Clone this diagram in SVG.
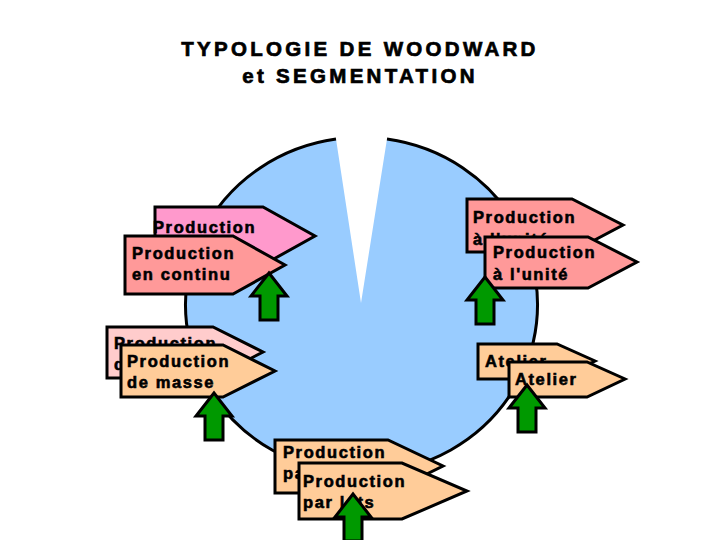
<svg xmlns="http://www.w3.org/2000/svg" width="720" height="540" viewBox="0 0 720 540">
<style>
.title{font-family:"Liberation Sans",Arial,sans-serif;font-weight:bold;font-size:20.5px;letter-spacing:3.3px;fill:#000;stroke:#000;stroke-width:0.7px}
.lbl{font-family:"Liberation Sans",Arial,sans-serif;font-weight:bold;font-size:16.5px;letter-spacing:1.6px;fill:#000;stroke:#000;stroke-width:0.6px}
.box{stroke:#000;stroke-width:3;stroke-linejoin:miter}
.arr{fill:#009900;stroke:#000;stroke-width:3;stroke-linejoin:miter}
</style>
<defs>
<polygon id="up" points="0,0 18,23 9,23 9,47 -9,47 -9,23 -18,23"/>
</defs>
<rect width="720" height="540" fill="#fff"/>
<g id="title">
<text class="title" x="360" y="56" text-anchor="middle">TYPOLOGIE DE WOODWARD</text>
<text class="title" x="360" y="83" text-anchor="middle">et SEGMENTATION</text>
</g>
<g id="pie">
<path d="M361,303 L387,139 A176 168 0 1 1 336,139 Z" fill="#99CCFF"/>
<path d="M387,139 A176 168 0 1 1 336,139" fill="none" stroke="#000" stroke-width="3"/>
</g>
<g id="continu-back">
<polygon class="box" fill="#FF99CC" points="155,207 263,207 315,236 263,265 155,265"/>
<text class="lbl" x="153" y="233">Production</text>
</g>
<g id="continu">
<polygon class="box" fill="#FF9999" points="125,236 233,236 285,265 233,294 125,294"/>
<text class="lbl" x="132" y="259">Production</text>
<text class="lbl" x="132" y="280">en continu</text>
</g>
<g id="unite-back">
<polygon class="box" fill="#FF9999" points="467,199 572,199 623,225 572,252 467,252"/>
<text class="lbl" x="473" y="223">Production</text>
<text class="lbl" x="473" y="245">à l'unité</text>
</g>
<g id="unite">
<polygon class="box" fill="#FF9999" points="485,237 588,237 637,262 588,288 485,288"/>
<text class="lbl" x="493" y="258">Production</text>
<text class="lbl" x="493" y="280">à l'unité</text>
</g>
<g id="masse-back">
<polygon class="box" fill="#FFCCCC" points="107,327 213,327 263,352 213,378 107,378"/>
<text class="lbl" x="114" y="349">Production</text>
<text class="lbl" x="114" y="370">de masse</text>
</g>
<g id="masse">
<polygon class="box" fill="#FFCC99" points="121,345 223,345 275,371 223,397 121,397"/>
<text class="lbl" x="127" y="367">Production</text>
<text class="lbl" x="127" y="388">de masse</text>
</g>
<g id="atelier-back">
<polygon class="box" fill="#FFCC99" points="478,344 557,344 595,361 557,379 478,379"/>
<text class="lbl" x="485" y="367">Atelier</text>
</g>
<g id="atelier">
<polygon class="box" fill="#FFCC99" points="509,362 587,362 625,379 587,397 509,397"/>
<text class="lbl" x="515" y="385">Atelier</text>
</g>
<g id="lots-back">
<polygon class="box" fill="#FFCC99" points="275,440 388,440 443,466 388,493 275,493"/>
<text class="lbl" x="283" y="458">Production</text>
<text class="lbl" x="283" y="479">par lots</text>
</g>
<g id="lots">
<polygon class="box" fill="#FFCC99" points="299,463 402,463 467,491 402,519 299,519"/>
<text class="lbl" x="303" y="487">Production</text>
<text class="lbl" x="303" y="508">par lots</text>
</g>
<g id="connectors">
<use href="#up" class="arr" x="269" y="273"/>
<use href="#up" class="arr" x="485" y="277"/>
<use href="#up" class="arr" x="214" y="393"/>
<use href="#up" class="arr" x="527" y="385"/>
<use href="#up" class="arr" x="353" y="494"/>
</g>
</svg>
